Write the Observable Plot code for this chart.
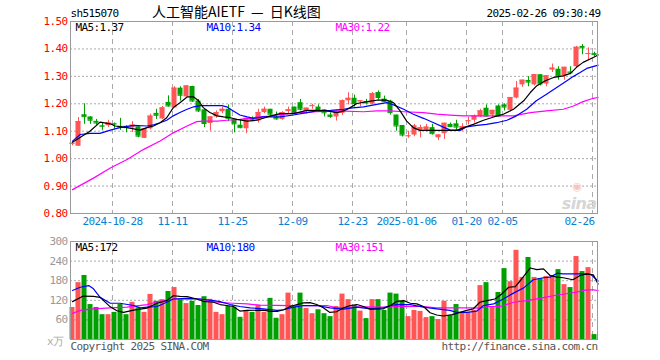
<!DOCTYPE html>
<html><head><meta charset="utf-8">
<script src="https://cdn.jsdelivr.net/npm/d3@7"></script>
<script src="https://cdn.jsdelivr.net/npm/@observablehq/plot@0.6"></script>
<style>
body{margin:0;background:#fff;}
#wrap{position:relative;width:660px;height:360px;overflow:hidden;background:#fff;}
#wrap svg{position:absolute;left:0;}
#title{position:absolute;left:152px;top:3px;font:14px/16px "Noto Sans CJK SC",sans-serif;color:#000;white-space:pre;word-spacing:3px;}
</style></head><body><div id="wrap"><div id="title">人工智能AIETF — 日K线图</div></div>
<script>
// ---- data (daily candles 2024-10-17 .. 2025-02-26) ----
const opens = [1.053,1.045,1.160,1.152,1.136,1.120,1.120,1.128,1.118,1.118,
  1.112,1.116,1.074,1.109,1.165,1.145,1.205,1.185,1.257,1.225,
  1.263,1.210,1.178,1.128,1.152,1.171,1.180,1.142,1.122,1.109,
  1.145,1.137,1.168,1.180,1.152,1.143,1.172,1.188,1.204,1.172,
  1.191,1.188,1.178,1.159,1.152,1.165,1.211,1.220,1.207,1.208,
  1.199,1.241,1.217,1.210,1.159,1.121,1.081,1.086,1.103,1.103,
  1.113,1.076,1.091,1.125,1.127,1.107,1.136,1.140,1.152,1.184,
  1.159,1.192,1.196,1.176,1.221,1.269,1.285,1.269,1.306,1.272,
  1.323,1.326,1.302,1.316,1.335,1.409,1.381,1.383];
const closes = [1.056,1.135,1.153,1.140,1.130,1.118,1.130,1.126,1.115,1.113,
  1.122,1.082,1.109,1.155,1.158,1.185,1.192,1.257,1.231,1.265,
  1.210,1.174,1.128,1.152,1.168,1.180,1.147,1.127,1.113,1.147,
  1.142,1.168,1.180,1.162,1.145,1.168,1.178,1.164,1.180,1.184,
  1.193,1.174,1.167,1.154,1.170,1.211,1.220,1.201,1.211,1.203,
  1.237,1.223,1.208,1.168,1.119,1.086,1.083,1.119,1.113,1.115,
  1.091,1.086,1.129,1.117,1.115,1.117,1.138,1.155,1.174,1.155,
  1.176,1.155,1.188,1.223,1.257,1.286,1.279,1.306,1.272,1.302,
  1.330,1.300,1.333,1.313,1.406,1.404,1.383,1.380];
const highs = [1.060,1.150,1.200,1.153,1.143,1.130,1.140,1.130,1.147,1.120,
  1.135,1.121,1.110,1.162,1.180,1.190,1.229,1.262,1.262,1.266,
  1.264,1.216,1.180,1.152,1.174,1.188,1.196,1.142,1.140,1.147,
  1.152,1.180,1.188,1.180,1.170,1.171,1.188,1.188,1.216,1.184,
  1.198,1.196,1.178,1.167,1.176,1.214,1.240,1.232,1.211,1.216,
  1.241,1.247,1.228,1.213,1.159,1.121,1.100,1.125,1.122,1.125,
  1.125,1.088,1.129,1.130,1.140,1.127,1.150,1.159,1.180,1.196,
  1.176,1.196,1.200,1.223,1.281,1.286,1.299,1.306,1.306,1.302,
  1.345,1.335,1.333,1.335,1.409,1.416,1.404,1.388];
const lows = [1.047,1.045,1.125,1.125,1.122,1.103,1.113,1.107,1.103,1.094,
  1.095,1.076,1.073,1.105,1.143,1.142,1.188,1.185,1.210,1.225,
  1.205,1.168,1.113,1.100,1.147,1.164,1.135,1.094,1.109,1.091,
  1.135,1.130,1.164,1.155,1.140,1.140,1.164,1.162,1.174,1.162,
  1.180,1.168,1.152,1.147,1.137,1.157,1.196,1.188,1.190,1.196,
  1.196,1.213,1.204,1.159,1.100,1.079,1.074,1.080,1.076,1.097,
  1.086,1.066,1.070,1.113,1.103,1.100,1.123,1.130,1.150,1.152,
  1.147,1.150,1.174,1.170,1.218,1.260,1.262,1.265,1.265,1.262,
  1.314,1.286,1.286,1.306,1.333,1.379,1.360,1.372];
const volumes = [98,174,196,107,98,76,76,83,107,76,
  114,97,83,138,117,122,147,159,122,110,
  117,104,131,123,83,76,101,99,68,89,
  83,104,83,126,65,76,142,104,142,95,
  79,91,79,70,101,139,122,104,87,64,
  122,122,89,142,139,117,70,89,86,67,
  70,61,117,73,107,83,83,89,165,174,
  101,144,217,177,273,190,251,190,187,193,
  196,214,168,159,254,208,220,15];

// moving-average lines: [candle index, value]
const ma5 = [[0,1.060],[2.9,1.100],[4.6,1.133],[6.3,1.127],[7.1,1.119],[9.1,1.113],[11.3,1.104],[12.4,1.113],[13.5,1.119],[14.6,1.131],[15.7,1.149],[16.8,1.186],[17.9,1.204],[19.1,1.225],[20.2,1.225],[21,1.211],[21.8,1.186],[22.9,1.168],[24.1,1.156],[25.2,1.152],[26.3,1.149],[27.4,1.143],[29.1,1.137],[30.7,1.140],[32.9,1.155],[34.6,1.164],[36.8,1.164],[39.1,1.176],[40.7,1.176],[42.4,1.174],[44.1,1.168],[45.2,1.174],[46.3,1.186],[47.4,1.201],[49.1,1.208],[50.7,1.213],[52.4,1.213],[53.5,1.204],[54.6,1.174],[55.7,1.137],[56.8,1.113],[57.9,1.103],[59.6,1.103],[61.3,1.103],[64.1,1.103],[65.2,1.113],[66.8,1.125],[68.5,1.140],[70.2,1.152],[71.8,1.162],[73.5,1.180],[75.2,1.211],[76.3,1.241],[77.4,1.266],[78.8,1.284],[80.2,1.296],[81.8,1.302],[83,1.311],[84,1.333],[85.1,1.351],[86.8,1.369],[87.6,1.378]];
const ma10 = [[0,1.064],[1.3,1.088],[2.9,1.092],[4.6,1.092],[6.3,1.104],[7.9,1.113],[10.2,1.121],[12.4,1.119],[13.5,1.123],[14.6,1.131],[15.7,1.140],[16.8,1.156],[17.9,1.168],[19.1,1.180],[20.2,1.189],[21.3,1.193],[24.9,1.193],[25.7,1.189],[26.8,1.174],[27.9,1.159],[29.1,1.152],[30.2,1.147],[31.8,1.152],[34.6,1.152],[36.8,1.159],[39.1,1.168],[40.7,1.174],[43,1.176],[45.2,1.180],[46.3,1.184],[48.5,1.189],[50.7,1.198],[52.4,1.204],[53.5,1.196],[55.2,1.180],[56.8,1.162],[58.5,1.147],[60.2,1.131],[61.8,1.115],[62.9,1.105],[64.6,1.103],[65.7,1.116],[67.4,1.121],[69,1.125],[70.7,1.131],[72.4,1.140],[74,1.156],[75.7,1.180],[77.3,1.211],[79,1.235],[80.7,1.259],[82.4,1.284],[83.5,1.300],[84.6,1.314],[85.7,1.329],[87.6,1.341]];
const ma30 = [[0,0.887],[3.5,0.929],[6.3,0.966],[9.1,0.997],[11.8,1.033],[14.6,1.064],[16.8,1.094],[19.1,1.119],[20.7,1.135],[21.8,1.137],[24.1,1.137],[25.7,1.140],[27.9,1.143],[29.6,1.147],[31,1.152],[32.9,1.155],[35.2,1.162],[38,1.168],[40.7,1.171],[44.1,1.174],[48.5,1.171],[50.7,1.174],[52.9,1.174],[55.2,1.171],[58.5,1.168],[60.7,1.162],[62.9,1.159],[65.2,1.156],[73.5,1.156],[76.3,1.168],[79,1.174],[81.8,1.180],[83.5,1.192],[85.1,1.208],[86.8,1.220],[87.6,1.223]];
const vma5 = [[0,116],[1.8,133],[3.5,132],[4.6,129],[6.3,100],[7.4,88],[8.5,83],[10.2,90],[12.4,96],[14.1,111],[15.7,119],[16.8,134],[17.9,132],[19.1,131],[20.7,124],[21.8,117],[23.5,114],[24.6,107],[25.7,104],[26.8,101],[27.9,87],[29.1,89],[31.8,90],[33,86],[34.1,86],[35.2,91],[36.3,101],[37.4,107],[38.5,112],[39.6,113],[40.7,107],[41.8,97],[42.9,83],[44,85],[45.2,97],[46.3,104],[47.4,107],[48.5,101],[49.6,93],[51.8,94],[53,104],[54.1,117],[55.2,119],[56.3,111],[57.4,109],[58.5,101],[59.6,82],[60.7,75],[61.8,72],[63.3,76],[64.6,83],[65.7,89],[66.8,94],[67.9,114],[69.1,119],[70.4,124],[71.6,140],[72.7,160],[73.8,162],[74.9,186],[76.3,219],[77.4,214],[78.5,216],[79.6,196],[80.7,191],[81.8,189],[83.4,183],[84.6,196],[85.7,201],[86.8,198],[87.6,170]];
const vma10 = [[0,150],[1.3,160],[2.7,165],[3.5,155],[4.6,129],[6.3,111],[7.9,111],[10.2,104],[11.3,97],[12.4,99],[14.1,101],[15.7,114],[16.8,124],[19.1,126],[21.3,124],[23.5,119],[24.6,116],[26.3,107],[27.9,101],[29.6,97],[31.8,94],[34.1,89],[35.2,91],[36.3,97],[38.5,104],[40.7,104],[42.9,97],[45.2,93],[47.4,99],[49.6,94],[51.8,97],[53,104],[54.1,107],[56.3,107],[58.5,99],[60.7,94],[62.9,89],[64,83],[65.7,83],[67.4,87],[68.5,104],[70.2,109],[71.8,124],[73.5,142],[75.2,158],[76.8,183],[78.5,189],[79.6,191],[80.8,203],[81.7,201],[83.4,201],[85,201],[86.4,199],[87.6,179]];
const vma30 = [[0,80],[1.3,89],[3.5,94],[6.3,97],[9.1,99],[12.4,107],[14.6,117],[16.8,124],[19.1,124],[21.3,124],[22.4,119],[24.1,114],[26.8,111],[29.1,109],[31.3,105],[36.3,104],[42.4,104],[44,97],[47.9,100],[51.8,99],[54.1,101],[58.5,101],[60.7,97],[66.3,97],[68,96],[69.1,101],[71.3,101],[73.5,114],[75.7,119],[77.9,126],[80.1,134],[82.3,140],[84,145],[85.7,152],[86.8,152],[87.6,150]];

const tickIdx = [7,17,27,37,47,56,66,72,87];
const tickLabels = ["2024-10-28","11-11","11-25","12-09","12-23","2025-01-06","01-20","02-05","02-26"];
const priceTicks = [0.8,0.9,1.0,1.1,1.2,1.3,1.4,1.5];
const volTicks = [60,120,180,240,300];
const code = "sh515070";
const stamp = "2025-02-26 09:30:49";
const maLabels = ["MA5:1.37","MA10:1.34","MA30:1.22"];
const vmaLabels = ["MA5:172","MA10:180","MA30:151"];

// ---- build ----
const N = opens.length;
const rows = opens.map((o, i) => ({i, open: o, close: closes[i], high: highs[i], low: lows[i], vol: volumes[i], up: closes[i] >= o}));
const RED = "#ff5555", GREEN = "#00a000";
const col = d => d.up ? RED : GREEN;
const ticks = tickIdx.map((t, k) => ({t, label: tickLabels[k]}));
const HW = 0.42;
const mono = "'DejaVu Sans Mono', monospace";
const baseStyle = {fontFamily: mono, fontSize: "11px", letterSpacing: "-0.62px", background: "transparent", overflow: "visible"};
const xs = {domain: [-1/3, N - 0.5], axis: null};
const maColors = ["#000000", "#0000ff", "#ff00ff"];
const maDx = [5, 136, 265];

const topPlot = Plot.plot({
  width: 660, height: 236, marginTop: 21, marginBottom: 23, marginLeft: 70, marginRight: 63,
  style: baseStyle,
  x: xs,
  y: {domain: [0.8, 1.5], axis: null},
  color: {type: "identity"},
  marks: [
    Plot.ruleY(priceTicks.slice(1, -1), {y: d => d, stroke: "#aaa", strokeDasharray: "2,2"}),
    Plot.ruleX(ticks, {x: d => d.t - 1/3, stroke: "#aaa", strokeDasharray: "5,4"}),
    Plot.text(["◉"], {frameAnchor: "bottom-right", dx: -16, dy: -27, lineAnchor: "middle", fill: "#f7c4c4", fontSize: 11, fontFamily: "DejaVu Sans"}),
    Plot.text(["sina"], {frameAnchor: "bottom-right", dx: -1, dy: -10, textAnchor: "end", lineAnchor: "middle", fill: "#d6d6d6", fontSize: 16, fontWeight: "bold", fontStyle: "italic", fontFamily: "DejaVu Sans"}),
    Plot.ruleX(rows, {x: "i", y1: "low", y2: "high", stroke: col}),
    Plot.rect(rows, {x1: d => d.i - HW, x2: d => d.i + HW, y1: "open", y2: "close", fill: col}),
    Plot.ruleY(rows, {y: "close", x1: d => d.i - HW, x2: d => d.i + HW, stroke: col}),
    Plot.line(ma30, {x: d => d[0], y: d => d[1], stroke: maColors[2], strokeWidth: 1.2}),
    Plot.line(ma10, {x: d => d[0], y: d => d[1], stroke: maColors[1], strokeWidth: 1.2}),
    Plot.line(ma5, {x: d => d[0], y: d => d[1], stroke: maColors[0], strokeWidth: 1.2}),
    Plot.frame({stroke: "#999"}),
    Plot.text(priceTicks, {y: d => d, text: d => d.toFixed(2), frameAnchor: "left", dx: -3, textAnchor: "end", lineAnchor: "middle", fill: "#ff0000"}),
    Plot.text(ticks.slice(0, -1), {x: d => d.t - 1/3, text: "label", frameAnchor: "bottom", dy: 8, lineAnchor: "middle", textAnchor: "middle", fill: "#0a80d2"}),
    Plot.text(ticks.slice(-1), {x: d => d.t - 1/3, text: "label", frameAnchor: "bottom", dy: 8, dx: 2, lineAnchor: "middle", textAnchor: "end", fill: "#0a80d2"}),
    Plot.text([code], {frameAnchor: "top-left", dy: -8, textAnchor: "start", lineAnchor: "middle", fill: "#000"}),
    Plot.text([stamp], {frameAnchor: "top-right", dy: -8, dx: 3, textAnchor: "end", lineAnchor: "middle", fill: "#000"}),
    ...maLabels.map((t, k) => Plot.text([t], {frameAnchor: "top-left", dx: maDx[k], dy: 6, textAnchor: "start", lineAnchor: "middle", fill: maColors[k]}))
  ]
});
topPlot.style.top = "0px";

const botPlot = Plot.plot({
  width: 660, height: 124, marginTop: 5, marginBottom: 21, marginLeft: 70, marginRight: 63,
  style: baseStyle,
  x: xs,
  y: {domain: [0, 300], axis: null},
  color: {type: "identity"},
  marks: [
    Plot.ruleY(volTicks.slice(0, -1), {y: d => d, stroke: "#aaa", strokeDasharray: "2,2"}),
    Plot.ruleX(ticks, {x: d => d.t - 1/3, stroke: "#aaa", strokeDasharray: "5,4"}),
    Plot.rect(rows, {x1: d => d.i - HW, x2: d => d.i + HW, y1: 0, y2: "vol", fill: col}),
    Plot.line(vma30, {x: d => d[0], y: d => d[1], stroke: maColors[2], strokeWidth: 1.2}),
    Plot.line(vma10, {x: d => d[0], y: d => d[1], stroke: maColors[1], strokeWidth: 1.2}),
    Plot.line(vma5, {x: d => d[0], y: d => d[1], stroke: maColors[0], strokeWidth: 1.2}),
    Plot.frame({stroke: "#999"}),
    Plot.text(volTicks, {y: d => d, text: d => String(d), frameAnchor: "left", dx: -3, textAnchor: "end", lineAnchor: "middle", fill: "#999"}),
    Plot.text(["x万"], {frameAnchor: "bottom-left", dx: -7, dy: 2, textAnchor: "end", lineAnchor: "middle", fill: "#aaa"}),
    ...vmaLabels.map((t, k) => Plot.text([t], {frameAnchor: "top-left", dx: maDx[k], dy: 6, textAnchor: "start", lineAnchor: "middle", fill: maColors[k]})),
    Plot.text(["Copyright 2025 SINA.COM"], {frameAnchor: "bottom-left", dy: 7, textAnchor: "start", lineAnchor: "middle", fill: "#555"}),
    Plot.text(["http://finance.sina.com.cn"], {frameAnchor: "bottom-right", dy: 7, textAnchor: "end", lineAnchor: "middle", fill: "#555"})
  ]
});
botPlot.style.top = "236px";

const wrap = document.getElementById("wrap");
wrap.appendChild(topPlot);
wrap.appendChild(botPlot);
</script>
</body></html>
